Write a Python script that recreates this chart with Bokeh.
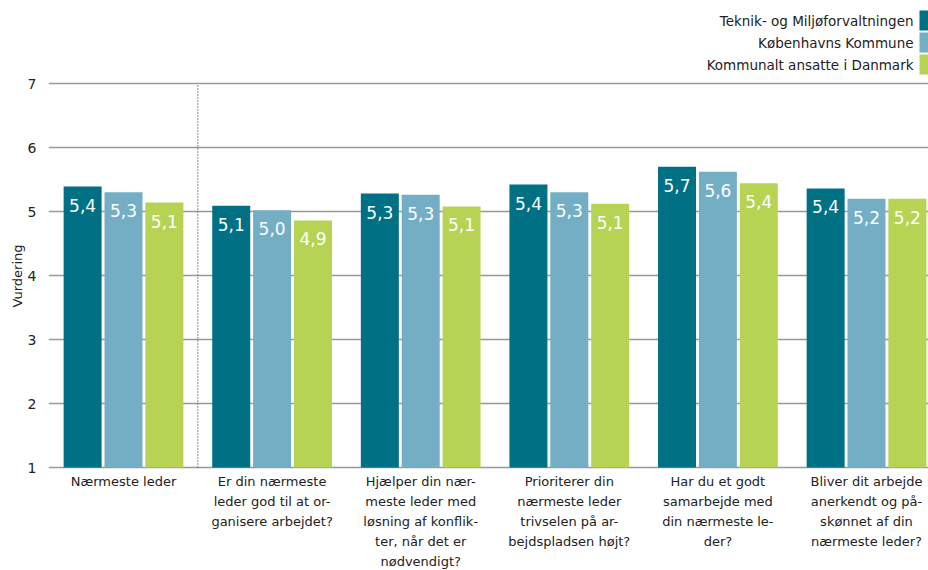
from bokeh.plotting import figure
from bokeh.models import ColumnDataSource, FixedTicker, Title
from bokeh.core.properties import value
from bokeh.embed import file_html
from bokeh.resources import INLINE

categories = [
    "Nærmeste leder",
    "Er din nærmeste\nleder god til at or-\nganisere arbejdet?",
    "Hjælper din nær-\nmeste leder med\nløsning af konflik-\nter, når det er\nnødvendigt?",
    "Prioriterer din\nnærmeste leder\ntrivselen på ar-\nbejdspladsen højt?",
    "Har du et godt\nsamarbejde med\ndin nærmeste le-\nder?",
    "Bliver dit arbejde\nanerkendt og på-\nskønnet af din\nnærmeste leder?",
]
series_names = ["Teknik- og Miljøforvaltningen", "Københavns Kommune", "Kommunalt ansatte i Danmark"]
tmf = [5.39, 5.09, 5.28, 5.42, 5.70, 5.36]
kk = [5.30, 5.02, 5.26, 5.30, 5.62, 5.20]
dk = [5.14, 4.86, 5.08, 5.12, 5.44, 5.20]
y_ticks = [1, 2, 3, 4, 5, 6, 7]

colors = ["#007084", "#74aec4", "#b6d354"]
FONT = "DejaVu Sans"

W, H = 928, 570
LEFT = 48
frame_w = W - LEFT
px_x = 148.6          # pixels per category
px_y = 64.0           # pixels per rating unit
base_y = 467          # canvas pixel of rating 1
x0 = 1 - 75.0 / px_x
x1 = x0 + frame_w / px_x
y_top = 1 + base_y / px_y
y_bot = 1 - (H - base_y) / px_y

p = figure(width=W, height=H, output_backend="svg", toolbar_location=None,
           x_range=(x0, x1), y_range=(y_bot, y_top),
           min_border_left=LEFT, min_border_right=0, min_border_top=0,
           min_border_bottom=0)
p.outline_line_color = None
p.background_fill_color = "white"
p.border_fill_color = "white"

offsets = [-0.275, 0.0, 0.275]
bar_w = 38.0 / px_x
for i, (vals, col) in enumerate(zip([tmf, kk, dk], colors)):
    xs = [k + 1 + offsets[i] for k in range(len(vals))]
    labels = [f"{v:.1f}".replace(".", ",") for v in vals]
    src = ColumnDataSource(dict(x=xs, top=vals, lab=labels))
    p.vbar(x="x", top="top", bottom=1, width=bar_w, source=src, fill_color=col, line_color=None)
    p.text(x="x", y="top", text="lab", source=src, text_align="center", text_baseline="top",
           y_offset=12, text_color="white", text_font=value(FONT), text_font_size="17px")

# separator
p.segment(x0=[1.5], y0=[1], x1=[1.5], y1=[7], line_color="#444444", line_width=1.2, line_dash="1 2")

# category labels under the baseline
cat_src = ColumnDataSource(dict(x=list(range(1, len(categories) + 1)), y=[1] * len(categories), t=categories))
p.text(x="x", y="y", text="t", source=cat_src, text_align="center", text_baseline="top",
       y_offset=6, text_color="#222222", text_font=value(FONT), text_font_size="13px",
       text_line_height=1.34)

# axes
p.xaxis.visible = False
p.yaxis.ticker = FixedTicker(ticks=y_ticks)
p.yaxis.axis_line_color = None
p.yaxis.major_tick_line_color = None
p.yaxis.major_tick_out = 0
p.yaxis.major_tick_in = 0
p.yaxis.minor_tick_line_color = None
p.yaxis.major_label_text_font = FONT
p.yaxis.major_label_text_font_size = "14px"
p.yaxis.major_label_text_color = "#222222"
p.yaxis.major_label_standoff = 12

ttl = Title(text="Vurdering", align="left", offset=H - 307, standoff=0, text_font=FONT,
            text_font_size="13px", text_font_style="normal", text_color="#222222")
p.add_layout(ttl, "left")

p.xgrid.grid_line_color = None
p.ygrid.grid_line_color = "#999999"
p.ygrid.grid_line_width = 1.5

# legend (text left, swatch right)
def data_y(pix):
    return 1 + (base_y - pix) / px_y

def data_x(pix):
    return x0 + (pix - LEFT) / px_x

leg_rows = [20, 42, 64]
leg_y = [data_y(r) for r in leg_rows]
p.rect(x=[data_x(926)] * 3, y=leg_y, width=14, height=20, width_units="screen", height_units="screen",
       fill_color=colors, line_color=None)
p.text(x=[data_x(913)] * 3, y=leg_y, text=series_names, text_align="right", text_baseline="middle",
       text_color="#222222", text_font=value(FONT), text_font_size="13.5px")

open("out.html", "w").write(file_html(p, INLINE))
